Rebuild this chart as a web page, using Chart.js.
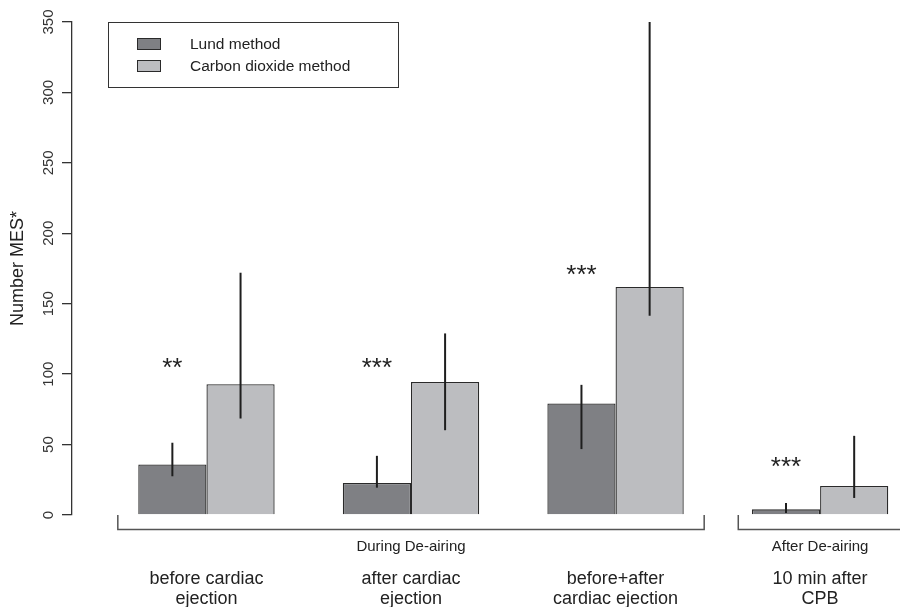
<!DOCTYPE html>
<html>
<head>
<meta charset="utf-8">
<script src="https://cdn.jsdelivr.net/npm/chart.js@4/dist/chart.umd.min.js"></script>
<style>
  html, body { margin: 0; padding: 0; background: #ffffff; }
</style>
</head>
<body>
<canvas id="mesChart" width="900" height="607"></canvas>
<script>
// Groups along the x axis (two text lines each)
const categories = [
    ['before cardiac', 'ejection'],
    ['after cardiac', 'ejection'],
    ['before+after', 'cardiac ejection'],
    ['10 min after', 'CPB']
];
const seriesNames = ['Lund method', 'Carbon dioxide method'];

// Bar heights and the ends of the error lines
const lundValues = [35.8, 22.8, 79.2, 4.0];
const lundLow = [27.5, 19.4, 46.8, 1.4];
const lundHigh = [51.3, 42.0, 92.4, 8.5];
const co2Values = [92.9, 94.4, 161.9, 20.6];
const co2Low = [68.5, 60.2, 141.5, 12.1];
const co2High = [172.0, 128.9, 350.0, 56.2];

// Significance stars above the Lund bars
const sigMarks = ['**', '***', '***', '***'];
const sigLevel = [107.8, 108.2, 174.0, 37.7];

// Phase brackets under the bars: label, first group, last group
const phaseLabels = ['During De-airing', 'After De-airing'];
const phaseFirst = [0, 3];
const phaseLast = [2, 3];

const yTicks = [0, 50, 100, 150, 200, 250, 300, 350];

const FONT = '"Liberation Sans", Arial, Helvetica, sans-serif';
const INK = '#222222';
const LUND_COLOR = '#7f8084';
const CO2_COLOR = '#bcbdc0';
const BRACKET_PAD = [1.3, 1.2]; // how far each bracket reaches past its outer bars (x units)

// R style barplot layout: one unit gap, then two bars of one unit each
const groupX = categories.map((c, i) => 2 + 3 * i);

Chart.defaults.font.family = FONT;
Chart.defaults.color = INK;

function toPoints(values) {
    return values.map((v, i) => ({ x: groupX[i], y: v }));
}

const errorBars = {
    id: 'errorBars',
    afterDatasetsDraw(chart) {
        const ctx = chart.ctx;
        const y = chart.scales.y;
        const ranges = [[lundLow, lundHigh], [co2Low, co2High]];
        ctx.save();
        ctx.beginPath();
        ctx.rect(chart.chartArea.left, chart.chartArea.top - 1, chart.chartArea.width, chart.chartArea.height + 2);
        ctx.clip();
        ctx.strokeStyle = '#1e1e1e';
        ctx.lineWidth = 2;
        ranges.forEach((r, d) => {
            chart.getDatasetMeta(d).data.forEach((bar, i) => {
                ctx.beginPath();
                ctx.moveTo(bar.x, y.getPixelForValue(r[0][i]));
                ctx.lineTo(bar.x, y.getPixelForValue(r[1][i]));
                ctx.stroke();
            });
        });
        ctx.restore();
    }
};

const annotations = {
    id: 'annotations',
    afterDraw(chart) {
        const ctx = chart.ctx;
        const x = chart.scales.x;
        const y = chart.scales.y;
        const base = y.getPixelForValue(0);
        ctx.save();

        // stars
        ctx.fillStyle = INK;
        ctx.font = '26px ' + FONT;
        ctx.textAlign = 'center';
        ctx.textBaseline = 'alphabetic';
        const m = ctx.measureText('*');
        const shift = (m.actualBoundingBoxAscent - m.actualBoundingBoxDescent) / 2;
        const lundMeta = chart.getDatasetMeta(0);
        sigMarks.forEach((s, i) => {
            ctx.fillText(s, lundMeta.data[i].x, y.getPixelForValue(sigLevel[i]) + shift);
        });

        // phase brackets
        const lineY = base + 14.5;
        ctx.strokeStyle = '#555555';
        ctx.lineWidth = 1.5;
        ctx.font = '15px ' + FONT;
        ctx.textBaseline = 'middle';
        phaseLabels.forEach((label, p) => {
            const x0 = x.getPixelForValue(groupX[phaseFirst[p]] - BRACKET_PAD[p]);
            const x1 = x.getPixelForValue(groupX[phaseLast[p]] + BRACKET_PAD[p]);
            ctx.beginPath();
            ctx.moveTo(x0, base);
            ctx.lineTo(x0, lineY);
            ctx.lineTo(x1, lineY);
            ctx.lineTo(x1, base);
            ctx.stroke();
            const mid = x.getPixelForValue((groupX[phaseFirst[p]] + groupX[phaseLast[p]]) / 2);
            ctx.fillText(label, mid, lineY + 17);
        });

        // group labels
        ctx.font = '18px ' + FONT;
        categories.forEach((lines, i) => {
            const cx = x.getPixelForValue(groupX[i]);
            lines.forEach((t, k) => {
                ctx.fillText(t, cx, base + 64 + k * 20);
            });
        });

        // legend box
        ctx.strokeStyle = '#333333';
        ctx.lineWidth = 1;
        ctx.strokeRect(108.5, 22.5, 290, 65);
        ctx.font = '15.5px ' + FONT;
        ctx.textAlign = 'left';
        chart.data.datasets.forEach((ds, d) => {
            const top = 38.5 + d * 22;
            ctx.fillStyle = ds.backgroundColor;
            ctx.fillRect(137.5, top, 23, 11);
            ctx.strokeStyle = '#2a2a2a';
            ctx.strokeRect(137.5, top, 23, 11);
            ctx.fillStyle = INK;
            ctx.fillText(ds.label, 190, top + 6);
        });
        ctx.restore();
    }
};

new Chart(document.getElementById('mesChart'), {
    type: 'bar',
    data: {
        datasets: [{
            label: seriesNames[0],
            data: toPoints(lundValues),
            backgroundColor: LUND_COLOR,
            borderColor: '#2a2a2a',
            borderWidth: 1.3,
            categoryPercentage: 2 / 3,
            barPercentage: 1
        }, {
            label: seriesNames[1],
            data: toPoints(co2Values),
            backgroundColor: CO2_COLOR,
            borderColor: '#2a2a2a',
            borderWidth: 1.3,
            categoryPercentage: 2 / 3,
            barPercentage: 1
        }]
    },
    options: {
        responsive: false,
        animation: false,
        devicePixelRatio: 1,
        layout: { padding: { top: 22, bottom: 92, left: 0, right: 0 } },
        plugins: {
            legend: { display: false },
            tooltip: { enabled: false }
        },
        scales: {
            x: {
                type: 'linear',
                display: false,
                offset: false,
                min: 0.028,
                max: 12.172,
                // ticks only at group centres so bar width follows the group spacing
                afterBuildTicks: (scale) => { scale.ticks = groupX.map(v => ({ value: v })); }
            },
            y: {
                min: 0,
                max: 350,
                afterBuildTicks: (scale) => { scale.ticks = yTicks.map(v => ({ value: v })); },
                afterFit: (scale) => { scale.width = 72; },
                border: { display: true, color: '#333333', width: 1.3 },
                grid: { drawOnChartArea: false, drawTicks: true, tickLength: 10, color: '#333333', lineWidth: 1.3 },
                ticks: {
                    minRotation: 90,
                    maxRotation: 90,
                    crossAlign: 'center',
                    padding: 1,
                    color: '#333333',
                    font: { size: 15 }
                },
                title: {
                    display: true,
                    text: 'Number MES*',
                    color: INK,
                    font: { size: 18 },
                    padding: { top: 7, bottom: 0 }
                }
            }
        }
    },
    plugins: [errorBars, annotations]
});
</script>
</body>
</html>
